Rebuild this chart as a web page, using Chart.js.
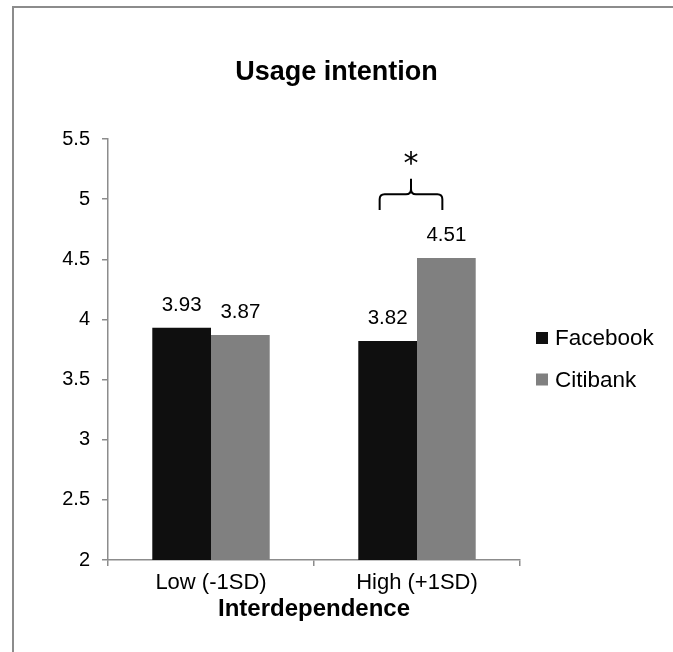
<!DOCTYPE html>
<html>
<head>
<meta charset="utf-8">
<script src="https://cdn.jsdelivr.net/npm/chart.js@4/dist/chart.umd.min.js"></script>
<style>
  html, body { margin: 0; padding: 0; background: #fff; overflow: hidden; }
  #wrap { position: relative; width: 673px; height: 652px; }
  #frame { position: absolute; left: 12px; top: 6px; width: 700px; height: 700px;
           border: 2px solid #8c8c8c; box-sizing: border-box; pointer-events: none; }
  canvas { position: absolute; left: 0; top: 0; }
</style>
</head>
<body>
<div id="wrap">
  <canvas id="c" width="673" height="652"></canvas>
  <div id="frame"></div>
</div>
<script>
const categories = ["Low (-1SD)", "High (+1SD)"];
const seriesNames = ["Facebook", "Citibank"];
const facebookValues = [3.93, 3.82];
const citibankValues = [3.87, 4.51];
const yTicks = [2, 2.5, 3, 3.5, 4, 4.5, 5, 5.5];
const chartTitle = "Usage intention";
const xAxisTitle = "Interdependence";
const significanceMark = "*";

const FONT = "'Liberation Sans', Arial, sans-serif";
const colors = ["#0f0f0f", "#808080"];

const valueLabels = {
  id: 'valueLabels',
  afterDatasetsDraw(chart) {
    const ctx = chart.ctx;
    ctx.save();
    ctx.font = "20.5px " + FONT;
    ctx.fillStyle = "#000";
    ctx.textAlign = "center";
    ctx.textBaseline = "middle";
    chart.data.datasets.forEach((ds, di) => {
      const meta = chart.getDatasetMeta(di);
      meta.data.forEach((bar, i) => {
        ctx.fillText(ds.data[i].toFixed(2), bar.x, bar.y - 23);
      });
    });
    ctx.restore();
  }
};

const customLegend = {
  id: 'customLegend',
  afterDraw(chart) {
    const ctx = chart.ctx;
    const a = chart.chartArea;
    ctx.save();
    ctx.font = "22.5px " + FONT;
    ctx.textBaseline = "middle";
    ctx.textAlign = "left";
    const x0 = a.right + 16;
    const yc = (a.top + a.bottom) / 2 - 11.5;
    chart.data.datasets.forEach((ds, i) => {
      const y = yc + i * 41.5;
      ctx.fillStyle = ds.backgroundColor;
      ctx.fillRect(x0, y - 6, 12, 12);
      ctx.fillStyle = "#000";
      ctx.fillText(ds.label, x0 + 19, y + 1);
    });
    ctx.restore();
  }
};

const braceMark = {
  id: 'braceMark',
  afterDatasetsDraw(chart) {
    const ctx = chart.ctx;
    const ys = chart.scales.y;
    const b0 = chart.getDatasetMeta(0).data[1];
    const b1 = chart.getDatasetMeta(1).data[1];
    const left = b0.x - 8;
    const right = b1.x - 4;
    const mid = (left + right) / 2;
    const yEnd = ys.getPixelForValue(4.91);
    const yBar = ys.getPixelForValue(5.04);
    const yTop = ys.getPixelForValue(5.17);
    const r = 5;
    ctx.save();
    ctx.strokeStyle = "#000";
    ctx.lineWidth = 2;
    ctx.beginPath();
    ctx.moveTo(left, yEnd);
    ctx.lineTo(left, yBar + r);
    ctx.quadraticCurveTo(left, yBar, left + r, yBar);
    ctx.lineTo(mid - r, yBar);
    ctx.quadraticCurveTo(mid, yBar, mid, yBar - r);
    ctx.lineTo(mid, yTop);
    ctx.moveTo(mid, yBar - r);
    ctx.quadraticCurveTo(mid, yBar, mid + r, yBar);
    ctx.lineTo(right - r, yBar);
    ctx.quadraticCurveTo(right, yBar, right, yBar + r);
    ctx.lineTo(right, yEnd);
    ctx.stroke();
    ctx.font = "30px 'DejaVu Sans', sans-serif";
    ctx.fillStyle = "#000";
    ctx.textAlign = "center";
    ctx.textBaseline = "middle";
    ctx.fillText(significanceMark, mid, ys.getPixelForValue(5.33) + 6);
    ctx.restore();
  }
};

new Chart(document.getElementById('c'), {
  type: 'bar',
  data: {
    labels: categories,
    datasets: [
      { label: seriesNames[0], data: facebookValues, backgroundColor: colors[0] },
      { label: seriesNames[1], data: citibankValues, backgroundColor: colors[1] }
    ]
  },
  options: {
    responsive: false,
    animation: false,
    devicePixelRatio: 1,
    layout: { padding: { top: 40, right: 0, bottom: 0, left: 0 } },
    datasets: { bar: { categoryPercentage: 0.57, barPercentage: 1.0, borderWidth: 0 } },
    plugins: {
      legend: { display: false },
      tooltip: { enabled: false },
      title: {
        display: true,
        text: chartTitle,
        color: "#000",
        font: { family: FONT, size: 27, weight: 'bold', lineHeight: 1.2 },
        padding: { top: 16, bottom: 50.6 }
      }
    },
    scales: {
      x: {
        afterFit(scale) { scale.height = 92; },
        grid: { display: true, drawOnChartArea: false, drawTicks: true, tickLength: 6, color: "#8c8c8c", lineWidth: 1.5, offset: true },
        border: { display: true, color: "#8c8c8c", width: 1.5 },
        ticks: { color: "#000", font: { family: FONT, size: 22 }, padding: 4 },
        title: {
          display: true, text: xAxisTitle, color: "#000",
          font: { family: FONT, size: 24, weight: 'bold', lineHeight: 1.2 },
          padding: { top: 0, bottom: 28.5 }
        }
      },
      y: {
        min: yTicks[0],
        max: yTicks[yTicks.length - 1],
        afterFit(scale) { scale.width = 108; },
        afterBuildTicks(scale) { scale.ticks = yTicks.map(v => ({ value: v })); },
        grid: { display: true, drawOnChartArea: false, drawTicks: true, tickLength: 6, color: "#8c8c8c", lineWidth: 1.5 },
        border: { display: true, color: "#8c8c8c", width: 1.5 },
        ticks: { color: "#000", font: { family: FONT, size: 20 }, padding: 12,
                 callback: (v) => String(v) }
      },
      spacer: {
        type: 'linear',
        position: 'right',
        display: true,
        afterFit(scale) { scale.width = 153; },
        grid: { display: false, drawTicks: false },
        border: { display: false },
        ticks: { display: false }
      }
    }
  },
  plugins: [valueLabels, customLegend, braceMark]
});
</script>
</body>
</html>
